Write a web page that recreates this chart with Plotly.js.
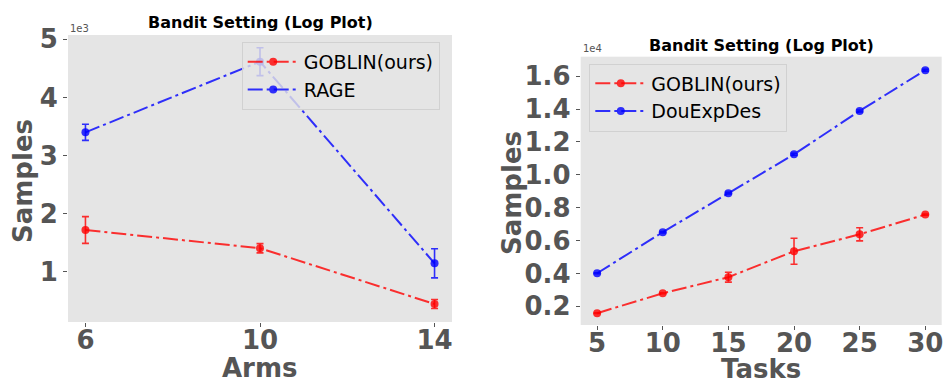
<!DOCTYPE html>
<html><head><meta charset="utf-8">
<script src="https://cdn.plot.ly/plotly-3.0.1.min.js"></script>
<style>html,body{margin:0;padding:0;background:#fff}#chart{width:945px;height:383px}</style>
</head><body><div id="chart"></div>
<script>
// Left panel: samples vs number of arms
const arms = [6, 10, 14];
const goblinArms = [1718, 1403, 444];
const goblinArmsErr = [230, 80, 77];
const rageArms = [3399, 4615, 1144];
const rageArmsErr = [138, 240, 250];

// Right panel: samples vs number of tasks
const tasks = [5, 10, 15, 20, 25, 30];
const goblinTasks = [1580, 2790, 3770, 5350, 6380, 7580];
const goblinTasksErr = [20, 30, 300, 790, 400, 40];
const douTasks = [4010, 6510, 8880, 11250, 13890, 16370];
const douTasksErr = [30, 40, 50, 60, 60, 60];

// Tick labels (values shown in units of the offset factor)
const armsTickVals = [1000, 2000, 3000, 4000, 5000];
const armsTickText = ['1', '2', '3', '4', '5'];
const tasksTickVals = [2000, 4000, 6000, 8000, 10000, 12000, 14000, 16000];
const tasksTickText = ['0.2', '0.4', '0.6', '0.8', '1.0', '1.2', '1.4', '1.6'];

const RED = 'rgba(255,0,0,0.8)';
const BLUE = 'rgba(0,0,255,0.8)';
const DASH = '15px,4px,3px,4px';
const GRAY = '#555555';
const FONT = 'DejaVu Sans';

function series(x, y, err, color, name, xa, ya, legend, group) {
  return {
    type: 'scatter', mode: 'lines+markers', x: x, y: y, name: name,
    xaxis: xa, yaxis: ya, legend: legend, legendgroup: group,
    line: {color: color, width: 2, dash: DASH},
    marker: {color: color, size: 8},
    error_y: {type: 'data', array: err, visible: true, color: color, thickness: 1.6, width: 3.5}
  };
}

const traces = [
  series(arms, goblinArms, goblinArmsErr, RED, 'GOBLIN(ours)', 'x', 'y', 'legend', 'a1'),
  series(arms, rageArms, rageArmsErr, BLUE, 'RAGE', 'x', 'y', 'legend', 'a2'),
  series(tasks, goblinTasks, goblinTasksErr, RED, 'GOBLIN(ours)', 'x2', 'y2', 'legend2', 'b1'),
  series(tasks, douTasks, douTasksErr, BLUE, 'DouExpDes', 'x2', 'y2', 'legend2', 'b2')
];

const tickFont = {family: FONT, size: 26, color: GRAY, weight: 'bold'};
function axisCommon() {
  return {showgrid: false, zeroline: false, showline: false, ticks: 'outside',
    ticklen: 4, tickwidth: 1, tickcolor: GRAY, tickfont: tickFont};
}

const W = 945, H = 383;
const legendCommon = {
  bgcolor: 'rgba(229,229,229,0.8)', bordercolor: 'rgba(204,204,204,0.8)', borderwidth: 1,
  font: {family: FONT, size: 19, color: '#000'}, xanchor: 'left', yanchor: 'top',
  traceorder: 'grouped', tracegroupgap: 0, itemwidth: 51
};

const layout = {
  width: W, height: H,
  margin: {l: 0, r: 0, t: 0, b: 0},
  paper_bgcolor: '#ffffff', plot_bgcolor: '#e5e5e5',
  showlegend: true,
  xaxis: Object.assign(axisCommon(), {domain: [68 / W, 452 / W], range: [5.6, 14.4],
    tickvals: arms, anchor: 'y', ticklabelstandoff: -9}),
  yaxis: Object.assign(axisCommon(), {domain: [1 - 322 / H, 1 - 35 / H], range: [134, 5074],
    tickvals: armsTickVals, ticktext: armsTickText, anchor: 'x'}),
  xaxis2: Object.assign(axisCommon(), {domain: [580.7 / W, 941.7 / W], range: [3.75, 31.25],
    tickvals: tasks, anchor: 'y2', ticklabelstandoff: -9}),
  yaxis2: Object.assign(axisCommon(), {domain: [1 - 325 / H, 1 - 56.7 / H], range: [860, 17190],
    tickvals: tasksTickVals, ticktext: tasksTickText, anchor: 'x2'}),
  legend: Object.assign({}, legendCommon, {x: 241.7 / W, y: 1 - 42 / H}),
  legend2: Object.assign({}, legendCommon, {x: 589.3 / W, y: 1 - 63.5 / H}),
  annotations: [
    {text: 'Bandit Setting (Log Plot)', xref: 'paper', yref: 'paper', x: 260 / W, y: 1 - 23 / H,
      showarrow: false, xanchor: 'center', yanchor: 'middle', font: {family: FONT, size: 16, color: '#000', weight: 'bold'}},
    {text: 'Bandit Setting (Log Plot)', xref: 'paper', yref: 'paper', x: 761 / W, y: 1 - 45 / H,
      showarrow: false, xanchor: 'center', yanchor: 'middle', font: {family: FONT, size: 16, color: '#000', weight: 'bold'}},
    {text: 'Samples', xref: 'paper', yref: 'paper', x: 23 / W, y: 1 - 181 / H, textangle: -90,
      showarrow: false, xanchor: 'center', yanchor: 'middle', font: {family: FONT, size: 26, color: GRAY, weight: 'bold'}},
    {text: 'Samples', xref: 'paper', yref: 'paper', x: 512 / W, y: 1 - 193 / H, textangle: -90,
      showarrow: false, xanchor: 'center', yanchor: 'middle', font: {family: FONT, size: 26, color: GRAY, weight: 'bold'}},
    {text: 'Arms', xref: 'paper', yref: 'paper', x: 260 / W, y: 1 - 368 / H,
      showarrow: false, xanchor: 'center', yanchor: 'middle', font: {family: FONT, size: 26, color: GRAY, weight: 'bold'}},
    {text: 'Tasks', xref: 'paper', yref: 'paper', x: 761 / W, y: 1 - 369 / H,
      showarrow: false, xanchor: 'center', yanchor: 'middle', font: {family: FONT, size: 26, color: GRAY, weight: 'bold'}},
    {text: '1e3', xref: 'paper', yref: 'paper', x: 68 / W, y: 1 - 28 / H,
      showarrow: false, xanchor: 'left', yanchor: 'middle', font: {family: FONT, size: 10, color: GRAY}},
    {text: '1e4', xref: 'paper', yref: 'paper', x: 581 / W, y: 1 - 49 / H,
      showarrow: false, xanchor: 'left', yanchor: 'middle', font: {family: FONT, size: 10, color: GRAY}}
  ]
};

Plotly.newPlot('chart', traces, layout, {displayModeBar: false, staticPlot: true});
</script>
</body></html>
